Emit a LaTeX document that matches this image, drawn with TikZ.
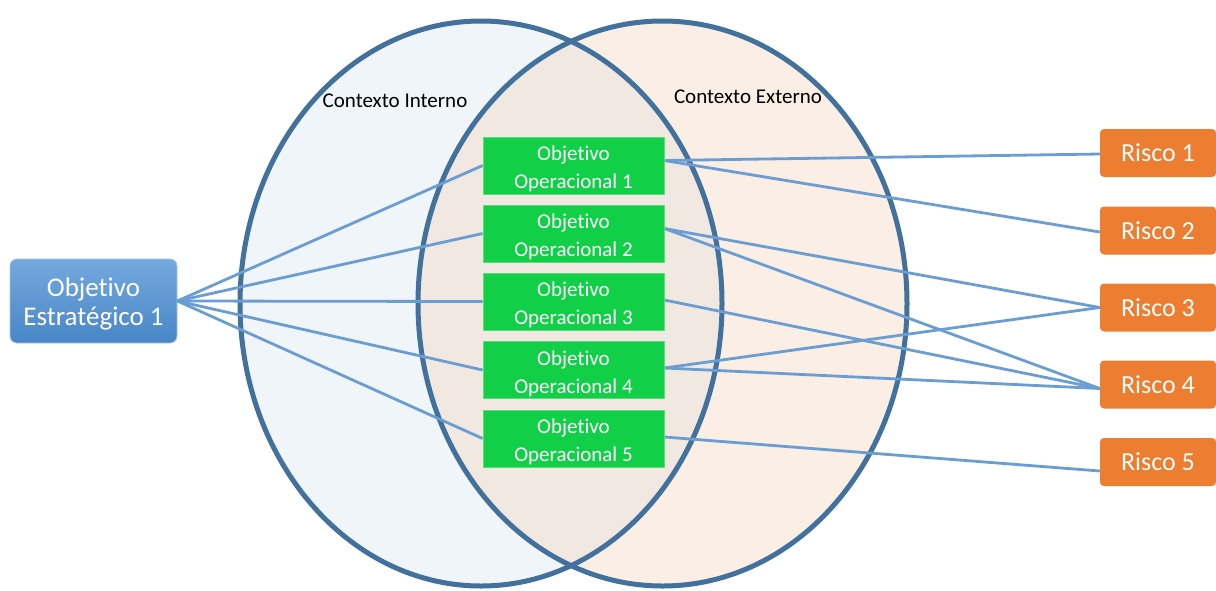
\documentclass[tikz,border=0pt]{standalone}
\usepackage{fontspec}
\setmainfont{Carlito}[Ligatures=NoCommon]
\definecolor{ringc}{HTML}{41719C}
\definecolor{linec}{HTML}{6A9ED2}
\definecolor{leftf}{HTML}{F0F5FA}
\definecolor{rightf}{HTML}{FBEEE5}
\definecolor{midf}{HTML}{F2E8E2}
\definecolor{greenc}{HTML}{12CF48}
\definecolor{orangec}{HTML}{ED7D31}
\definecolor{bluetop}{HTML}{74A9DE}
\definecolor{bluebot}{HTML}{4886C6}
\tikzset{
  opbox/.style={fill=greenc, draw=greenc!70!white, line width=0.8pt, minimum width=181pt, minimum height=57pt, inner sep=0pt},
  optext/.style={text=white, align=center, font=\fontsize{21}{28}\selectfont, inner sep=0pt},
  riskbox/.style={fill=orangec, rounded corners=4pt, minimum width=116pt, minimum height=48pt, text=white, font=\fontsize{26}{30}\selectfont, inner sep=0pt},
  conn/.style={draw=linec, line width=2.8pt},
  ring/.style={draw=ringc, line width=5pt},
  ctx/.style={font=\fontsize{21}{24}\selectfont, text=black}
}
\begin{document}
\begin{tikzpicture}[x=1pt,y=-1pt]
\useasboundingbox (0,0) rectangle (1216,590);
% ellipses
\fill[leftf] (481,303.5) ellipse [x radius=241, y radius=282.5];
\fill[rightf] (662.5,303.5) ellipse [x radius=244.5, y radius=282.5];
\begin{scope}
\clip (481,303.5) ellipse [x radius=241, y radius=282.5];
\fill[midf] (662.5,303.5) ellipse [x radius=244.5, y radius=282.5];
\end{scope}
\draw[ring] (481,303.5) ellipse [x radius=241, y radius=282.5];
\draw[ring] (662.5,303.5) ellipse [x radius=244.5, y radius=282.5];
\node[ctx] (ci) at (395,101) {Contexto Interno};
\node[ctx] (ce) at (748,97) {Contexto Externo};
% strategic
\node[rounded corners=7pt, top color=bluetop, bottom color=bluebot, draw=bluetop!70!white, line width=0.8pt, minimum width=167pt, minimum height=84pt, inner sep=0pt] (se) at (93.5,301) {};
\node[text=white, align=center, font=\fontsize{27}{29}\selectfont, inner sep=0pt] (set) at (93.5,303.5) {Objetivo\\Estratégico 1};
% risks
\node[riskbox] (r1) at (1158,153) {Risco 1};
\node[riskbox] (r2) at (1158,230.5) {Risco 2};
\node[riskbox] (r3) at (1158,307.5) {Risco 3};
\node[riskbox] (r4) at (1158,384.5) {Risco 4};
\node[riskbox] (r5) at (1158,462) {Risco 5};
% operational boxes (coordinates first)
\coordinate (c1) at (573.5,165.5);
\coordinate (c2) at (573.5,233.5);
\coordinate (c3) at (573.5,301.5);
\coordinate (c4) at (573.5,370);
\coordinate (c5) at (573.5,438.5);
\foreach \i in {1,...,5}{
  \node[opbox] (o\i) at (c\i) {};
}
% connectors
\foreach \o in {o1,o2,o3,o4,o5}{
  \draw[conn] (se.east) -- (\o.west);
}
\draw[conn] ([yshift=5pt]o1.east) -- ([yshift=-1pt]r1.west);
\draw[conn] ([yshift=5pt]o1.east) -- ([yshift=-1.5pt]r2.west);
\draw[conn] ([yshift=5pt]o2.east) -- (r3.west);
\draw[conn] ([yshift=5pt]o2.east) -- ([yshift=-4pt]r4.west);
\draw[conn] ([yshift=1.5pt]o3.east) -- ([yshift=-4pt]r4.west);
\draw[conn] ([yshift=2pt]o4.east) -- (r3.west);
\draw[conn] ([yshift=2pt]o4.east) -- ([yshift=-4pt]r4.west);
\draw[conn] ([yshift=1.5pt]o5.east) -- ([yshift=-9pt]r5.west);
% boxes on top of the connectors
\foreach \i in {1,...,5}{
  \node[opbox] at (c\i) {};
  \node[optext] (t\i) at ([yshift=-3.5pt]c\i) {Objetivo\\Operacional \i};
}
\end{tikzpicture}
\end{document}
